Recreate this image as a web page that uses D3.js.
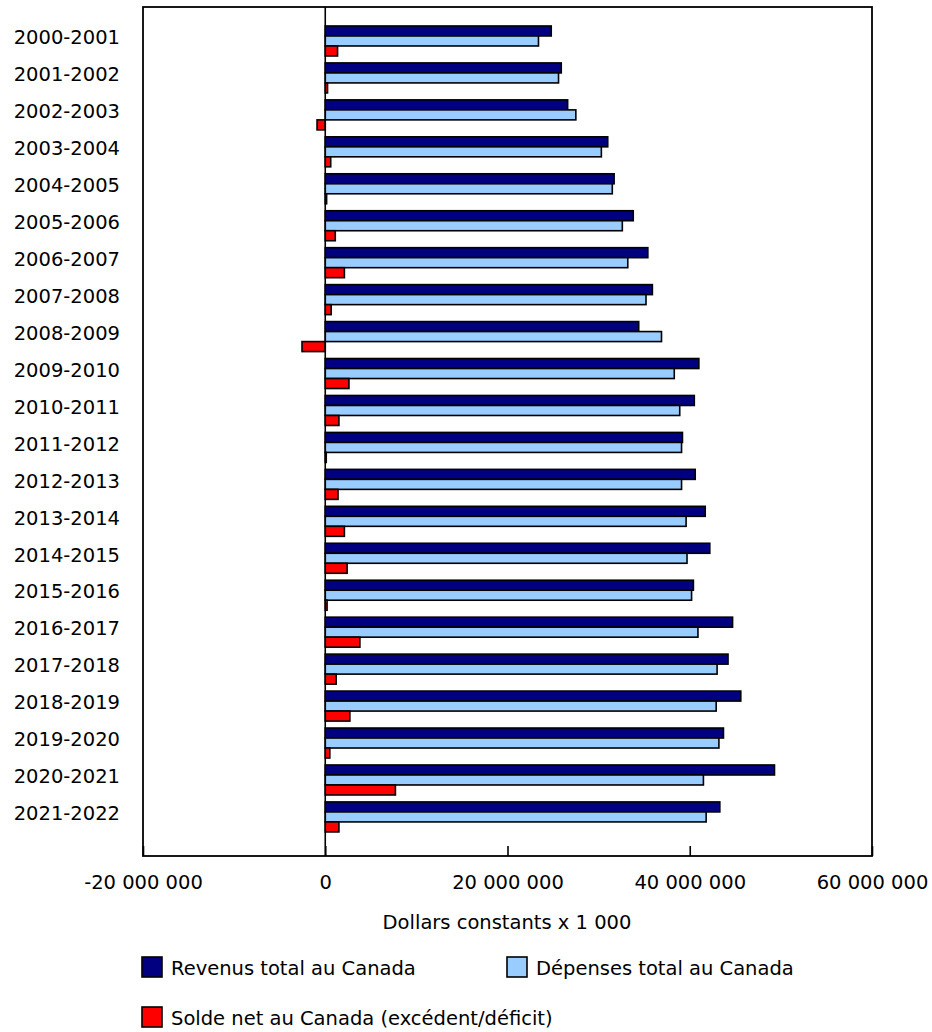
<!DOCTYPE html>
<html><head><meta charset="utf-8">
<script src="https://cdn.jsdelivr.net/npm/d3@7"></script>
<style>
html,body{margin:0;padding:0;background:#fff;}
text{font-family:"DejaVu Sans",Verdana,sans-serif;fill:#000;}
</style></head>
<body>
<svg id="chart" width="932" height="1032"></svg>
<script>
const categories = ["2000-2001","2001-2002","2002-2003","2003-2004","2004-2005","2005-2006","2006-2007","2007-2008","2008-2009","2009-2010","2010-2011","2011-2012","2012-2013","2013-2014","2014-2015","2015-2016","2016-2017","2017-2018","2018-2019","2019-2020","2020-2021","2021-2022"];
const revenus = [24800000,25900000,26600000,31000000,31700000,33800000,35400000,35900000,34400000,41000000,40500000,39200000,40600000,41700000,42200000,40400000,44700000,44200000,45600000,43700000,49300000,43300000];
const depenses = [23400000,25600000,27500000,30300000,31500000,32600000,33200000,35200000,36900000,38300000,38900000,39100000,39100000,39600000,39700000,40200000,40900000,43000000,42900000,43200000,41500000,41800000];
const solde = [1350000,250000,-900000,600000,150000,1100000,2100000,650000,-2550000,2600000,1500000,50000,1400000,2100000,2400000,200000,3800000,1200000,2700000,500000,7700000,1500000];
const seriesNames = ["Revenus total au Canada","Dépenses total au Canada","Solde net au Canada (excédent/déficit)"];
const seriesColors = ["#000080","#99CCFF","#FF0000"];
const xTicks = [-20000000,0,20000000,40000000,60000000];
const xTitle = "Dollars constants x 1 000";

const series = [revenus, depenses, solde];
const svg = d3.select("#chart");
const L = 143, R = 872, T = 7, B = 856;
const FS = "19.5px";

const x = d3.scaleLinear().domain([-20000000,60000000]).range([L,R]);
const y = d3.scaleBand().domain(categories).range([22.5, 22.5+22*36.95]).paddingInner(0.188).paddingOuter(0.094);
const sub = d3.scaleBand().domain([0,1,2]).range([0, y.bandwidth()]);

const loc = d3.formatLocale({decimal:",", thousands:" ", grouping:[3], currency:["","$"], minus:"-"});
const fmt = loc.format(",d");

// bars
const g = svg.append("g");
categories.forEach((c,i)=>{
  series.forEach((s,k)=>{
    const v = s[i];
    g.append("rect")
      .attr("x", x(Math.min(0,v)))
      .attr("y", y(c)+sub(k))
      .attr("width", Math.max(1, Math.abs(x(v)-x(0))))
      .attr("height", sub.bandwidth())
      .attr("fill", seriesColors[k])
      .attr("stroke", "#000")
      .attr("stroke-width", 1.6);
  });
});

// frame
svg.append("rect").attr("x",L).attr("y",T).attr("width",R-L).attr("height",B-T)
  .attr("fill","none").attr("stroke","#000").attr("stroke-width",1.8);
// zero line
svg.append("line").attr("x1",x(0)).attr("x2",x(0)).attr("y1",T).attr("y2",B)
  .attr("stroke","#000").attr("stroke-width",1.6);

// x axis
const xAxis = d3.axisBottom(x).tickValues(xTicks).tickFormat(fmt).tickSizeInner(-10).tickSizeOuter(0).tickPadding(0);
const ax = svg.append("g").attr("transform",`translate(0,${B})`).call(xAxis);
ax.select(".domain").remove();
ax.selectAll(".tick line").attr("stroke","#000").attr("stroke-width",1.6);
ax.selectAll(".tick text").attr("y",26).attr("dy","0.35em").style("font-size",FS).attr("font-family","DejaVu Sans");

// y labels
const yAxis = d3.axisLeft(y).tickSize(0).tickPadding(23);
const ay = svg.append("g").attr("transform",`translate(${L},-3)`).call(yAxis);
ay.select(".domain").remove();
ay.selectAll(".tick text").style("font-size",FS).attr("font-family","DejaVu Sans");

// x title
svg.append("text").attr("x",507).attr("y",922).attr("dy","0.35em").attr("text-anchor","middle").style("font-size",FS).text(xTitle);

// legend
const legPos = [[142,957],[507,957],[142,1007]];
seriesNames.forEach((n,k)=>{
  const [lx,ly] = legPos[k];
  svg.append("rect").attr("x",lx).attr("y",ly).attr("width",20).attr("height",20)
    .attr("fill",seriesColors[k]).attr("stroke","#000").attr("stroke-width",1.6);
  svg.append("text").attr("x",lx+29).attr("y",ly+11).attr("dy","0.35em").style("font-size",FS).text(n);
});
</script>
</body></html>
